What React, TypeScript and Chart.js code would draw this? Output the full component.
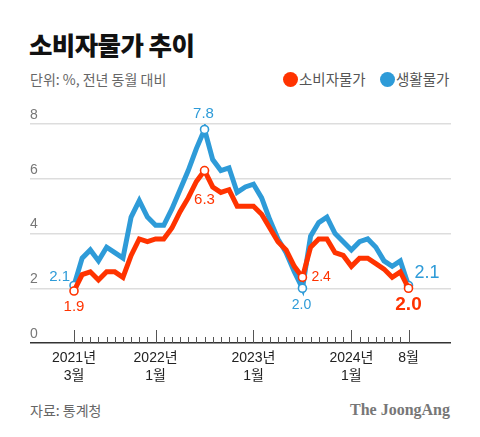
import React, { useEffect, useRef } from "react";
import { Chart, registerables } from "chart.js";

Chart.register(...registerables);

// ---- data ----
const months: string[] = [
  "2021-03", "2021-04", "2021-05", "2021-06", "2021-07", "2021-08", "2021-09", "2021-10", "2021-11", "2021-12",
  "2022-01", "2022-02", "2022-03", "2022-04", "2022-05", "2022-06", "2022-07", "2022-08", "2022-09", "2022-10", "2022-11", "2022-12",
  "2023-01", "2023-02", "2023-03", "2023-04", "2023-05", "2023-06", "2023-07", "2023-08", "2023-09", "2023-10", "2023-11", "2023-12",
  "2024-01", "2024-02", "2024-03", "2024-04", "2024-05", "2024-06", "2024-07", "2024-08",
];

const cpi: number[] = [
  1.9, 2.5, 2.6, 2.3, 2.6, 2.6, 2.4, 3.2, 3.8, 3.7,
  3.8, 3.8, 4.2, 4.8, 5.3, 5.9, 6.3, 5.7, 5.5, 5.6, 5.0, 5.0,
  5.0, 4.7, 4.2, 3.7, 3.4, 2.8, 2.4, 3.5, 3.8, 3.8, 3.3, 3.2,
  2.8, 3.1, 3.1, 2.9, 2.7, 2.4, 2.6, 2.0,
];

const living: number[] = [
  2.1, 3.1, 3.4, 3.0, 3.5, 3.3, 3.1, 4.6, 5.2, 4.6,
  4.3, 4.3, 4.9, 5.6, 6.3, 7.1, 7.8, 6.7, 6.3, 6.4, 5.5, 5.7,
  5.8, 5.3, 4.5, 3.8, 3.3, 2.6, 2.0, 3.9, 4.4, 4.6, 4.0, 3.7,
  3.4, 3.7, 3.8, 3.5, 3.0, 2.8, 3.0, 2.1,
];

const majorTickIdx: number[] = [0, 10, 22, 34, 41];
const majorTickLabels: string[][] = [
  ["2021년", "3월"],
  ["2022년", "1월"],
  ["2023년", "1월"],
  ["2024년", "1월"],
  ["8월"],
];
const yTicks: number[] = [0, 2, 4, 6, 8];
const markerIdx: number[] = [0, 16, 28, 41];

const seriesNames: string[] = ["소비자물가", "생활물가"];
const RED = "#ff3300";
const BLUE = "#2e9bd8";

// label styling (dataset index, point index, offsets)
const labelSpecs = [
  { ds: 1, i: 0, dx: -4, dy: -9, align: "right", size: 15, weight: "400" },
  { ds: 0, i: 0, dx: 0, dy: 16, align: "center", size: 15, weight: "400" },
  { ds: 1, i: 16, dx: -1, dy: -16, align: "center", size: 15, weight: "400" },
  { ds: 0, i: 16, dx: 0, dy: 29, align: "center", size: 15, weight: "400" },
  { ds: 1, i: 28, dx: -1, dy: 17, align: "center", size: 14, weight: "400" },
  { ds: 0, i: 28, dx: 9, dy: 0, align: "left", size: 14, weight: "400" },
  { ds: 1, i: 41, dx: 6, dy: -12, align: "left", size: 18, weight: "500" },
  { ds: 0, i: 41, dx: 0, dy: 17, align: "center", size: 19, weight: "700" },
];

const NUM_FONT = '"Liberation Sans", Arial, "Noto Sans CJK KR", sans-serif';
const KR_FONT = '"Noto Sans CJK KR", "Noto Sans", sans-serif';

const axisTicksPlugin = {
  id: "axisTicks",
  afterDatasetsDraw(chart: any) {
    const xs = chart.scales.x;
    const ys = chart.scales.y;
    const ctx = chart.ctx;
    const y0 = ys.getPixelForValue(0);
    ctx.save();
    ctx.strokeStyle = "#555";
    ctx.lineWidth = 1;
    for (let i = 0; i < months.length; i++) {
      const x = Math.round(xs.getPixelForValue(i)) + 0.5;
      const major = majorTickIdx.includes(i);
      ctx.beginPath();
      ctx.moveTo(x, y0);
      ctx.lineTo(x, y0 - (major ? 13 : 6));
      ctx.stroke();
    }
    ctx.restore();
  },
};

const dataLabelPlugin = {
  id: "dataLabels",
  afterDatasetsDraw(chart: any) {
    const ctx = chart.ctx;
    ctx.save();
    ctx.textBaseline = "middle";
    for (const s of labelSpecs) {
      const meta = chart.getDatasetMeta(s.ds);
      const pt = meta.data[s.i];
      const val = chart.data.datasets[s.ds].data[s.i].y as number;
      ctx.font = `${s.weight} ${s.size}px ${NUM_FONT}`;
      ctx.fillStyle = s.ds === 0 ? RED : BLUE;
      ctx.textAlign = s.align;
      ctx.fillText(val.toFixed(1), pt.x + s.dx, pt.y + s.dy);
    }
    ctx.restore();
  },
};

function ChartCanvas() {
  const ref = useRef<HTMLCanvasElement | null>(null);
  useEffect(() => {
    if (!ref.current) return;
    const pxPerMonth = (408.5 - 74) / 41;
    const xMin = -(74 - 30) / pxPerMonth;
    const xMax = 41 + (451 - 408.5) / pxPerMonth;
    const mk = (arr: number[]) => arr.map((v, i) => ({ x: i, y: v }));
    const radius = (c: any) => (markerIdx.includes(c.dataIndex) ? 4 : 0);
    const chart = new Chart(ref.current, {
      type: "line",
      data: {
        datasets: [
          {
            label: seriesNames[0],
            data: mk(cpi),
            borderColor: RED,
            borderWidth: 5,
            pointRadius: radius,
            pointBackgroundColor: "#fff",
            pointBorderColor: RED,
            pointBorderWidth: 1.6,
            tension: 0,
          },
          {
            label: seriesNames[1],
            data: mk(living),
            borderColor: BLUE,
            borderWidth: 5,
            pointRadius: radius,
            pointBackgroundColor: "#fff",
            pointBorderColor: BLUE,
            pointBorderWidth: 1.6,
            tension: 0,
          },
        ],
      },
      options: {
        animation: false,
        responsive: false,
        devicePixelRatio: 1,
        layout: { padding: { left: 30, right: 29, top: 24, bottom: 0 } },
        plugins: {
          legend: { display: false },
          tooltip: { enabled: false },
        },
        scales: {
          x: {
            type: "linear",
            min: xMin,
            max: xMax,
            grid: { display: false, drawTicks: false },
            border: { display: false },
            afterBuildTicks: (s: any) => {
              s.ticks = majorTickIdx.map((v) => ({ value: v }));
            },
            afterFit: (s: any) => {
              s.height = 47;
            },
            ticks: {
              autoSkip: false,
              maxRotation: 0,
              padding: 6,
              color: "#222",
              font: { family: NUM_FONT, size: 14, lineHeight: 1.3 },
              callback: (v: any) => {
                const k = majorTickIdx.indexOf(Number(v));
                return k >= 0 ? majorTickLabels[k] : "";
              },
            },
          },
          y: {
            min: 0,
            max: 8,
            afterBuildTicks: (s: any) => {
              s.ticks = yTicks.map((v) => ({ value: v }));
            },
            afterFit: (s: any) => {
              s.width = 0;
            },
            border: { display: false },
            grid: {
              drawTicks: false,
              color: (c: any) => (c.tick && c.tick.value === 0 ? "#333" : "#dddddd"),
              lineWidth: 1.5,
            },
            ticks: {
              mirror: true,
              padding: 0,
              labelOffset: -9,
              color: "#777",
              font: { family: NUM_FONT, size: 14 },
            },
          },
        },
      },
      plugins: [axisTicksPlugin, dataLabelPlugin],
    });
    return () => chart.destroy();
  }, []);
  return (
    <canvas
      ref={ref}
      width={480}
      height={290}
      style={{ position: "absolute", left: 0, top: 100, width: 480, height: 290 }}
    />
  );
}

export default function App() {
  const dot = (c: string, cx: number) => ({
    position: "absolute" as const,
    left: cx - 7.5,
    top: 71.5,
    width: 15,
    height: 15,
    borderRadius: "50%",
    background: c,
  });
  const legText = (left: number) => ({
    position: "absolute" as const,
    left,
    top: 68,
    fontSize: 14.5,
    lineHeight: "22px",
    color: "#555",
    whiteSpace: "nowrap" as const,
  });
  return (
    <div
      style={{
        position: "absolute",
        left: 0,
        top: 0,
        width: 480,
        height: 437,
        background: "#fff",
        overflow: "hidden",
        fontFamily: KR_FONT,
      }}
    >
      <div
        style={{
          position: "absolute",
          left: 29,
          top: 29,
          fontSize: 25.5,
          lineHeight: "30px",
          fontWeight: 900,
          color: "#111",
          letterSpacing: -0.6,
          whiteSpace: "nowrap",
        }}
      >
        소비자물가 추이
      </div>
      <div
        style={{
          position: "absolute",
          left: 30,
          top: 68,
          fontSize: 14,
          lineHeight: "22px",
          color: "#666",
          whiteSpace: "nowrap",
        }}
      >
        단위: %, 전년 동월 대비
      </div>
      <span style={dot(RED, 290)} />
      <span style={legText(299)}>{seriesNames[0]}</span>
      <span style={dot(BLUE, 387)} />
      <span style={legText(396)}>{seriesNames[1]}</span>
      <ChartCanvas />
      <div
        style={{
          position: "absolute",
          left: 30,
          top: 400,
          fontSize: 14,
          lineHeight: "20px",
          color: "#666",
          whiteSpace: "nowrap",
        }}
      >
        자료: 통계청
      </div>
      <div
        style={{
          position: "absolute",
          right: 30,
          top: 399,
          fontSize: 16,
          lineHeight: "22px",
          fontWeight: 700,
          color: "#777",
          fontFamily: '"Liberation Serif", "DejaVu Serif", serif',
          whiteSpace: "nowrap",
        }}
      >
        The JoongAng
      </div>
    </div>
  );
}
